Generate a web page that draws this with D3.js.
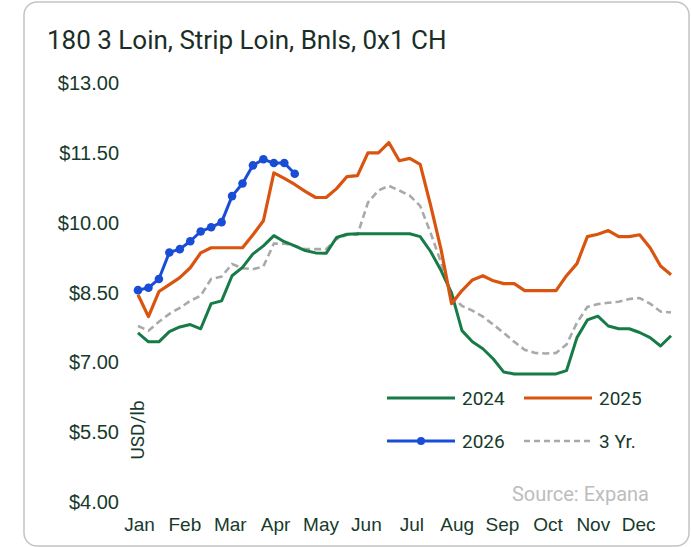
<!DOCTYPE html>
<html lang="en">
<head>
<meta charset="utf-8" />
<script src="https://d3js.org/d3.v7.min.js"></script>
<style>
body { margin: 0; background: #fff; }
svg { font-family: Roboto, "Open Sans", sans-serif; }
.card { fill: #fff; stroke: #c4c4c4; stroke-width: 1.5; }
.title { font-size: 26px; fill: #1b2e26; }
.tick text { font-size: 20px; fill: #173a2b; }
.xax .tick text { font-size: 19px; }
.lbl { font-size: 19px; fill: #173a2b; }
.src { font-size: 20px; fill: #bdbdbd; }
</style>
</head>
<body>
<svg width="691" height="547"></svg>
<script>
// weekly prices, USD/lb
var months = ["Jan","Feb","Mar","Apr","May","Jun","Jul","Aug","Sep","Oct","Nov","Dec"];
var yTicks = [4, 5.5, 7, 8.5, 10, 11.5, 13];

var s2024 = [7.62,7.43,7.43,7.65,7.75,7.80,7.71,8.25,8.31,8.85,9.03,9.32,9.49,9.71,9.58,9.49,
  9.39,9.34,9.33,9.67,9.74,9.75,9.75,9.75,9.75,9.75,9.75,9.69,9.37,8.96,8.48,7.67,
  7.43,7.28,7.06,6.78,6.74,6.74,6.74,6.74,6.74,6.81,7.52,7.90,7.98,7.77,7.71,7.71,
  7.63,7.52,7.34,7.56];
var s2025 = [8.44,7.97,8.51,8.66,8.81,9.02,9.34,9.45,9.45,9.45,9.45,9.73,10.03,11.06,10.94,10.81,
  10.66,10.53,10.53,10.72,10.98,11.00,11.49,11.49,11.71,11.32,11.37,11.24,10.36,9.41,8.25,8.53,
  8.76,8.85,8.74,8.68,8.68,8.53,8.53,8.53,8.53,8.85,9.11,9.69,9.74,9.82,9.69,9.69,
  9.73,9.45,9.06,8.87];
var s2026 = [8.54,8.59,8.78,9.35,9.42,9.59,9.80,9.89,10.00,10.56,10.83,11.22,11.35,11.27,11.27,11.04];
var s3yr = [7.77,7.67,7.86,8.03,8.16,8.31,8.42,8.78,8.83,9.10,9.01,8.99,9.05,9.54,9.54,9.49,
  9.42,9.42,9.42,9.64,9.73,9.73,10.42,10.68,10.78,10.68,10.57,10.35,9.77,9.13,8.42,8.20,
  8.10,7.97,7.80,7.62,7.43,7.26,7.19,7.18,7.19,7.37,7.84,8.18,8.24,8.27,8.29,8.35,
  8.37,8.25,8.08,8.06];

var svg = d3.select("svg");

svg.append("rect").attr("class", "card")
    .attr("x", 24).attr("y", 2).attr("width", 665).attr("height", 544).attr("rx", 13);

svg.append("text").attr("class", "title")
    .attr("x", 47).attr("y", 49)
    .text("180 3 Loin, Strip Loin, Bnls, 0x1 CH");

var x = d3.scaleLinear().domain([0, 51]).range([138, 671]);
var y = d3.scaleLinear().domain([4, 13]).range([501.5, 82.5]);
var xm = d3.scalePoint().domain(months).range([x(0) + 1, x(11 * 52 / 12) + 2]);

svg.append("g")
    .attr("transform", "translate(119,0)")
    .call(d3.axisLeft(y).tickValues(yTicks).tickSize(0).tickPadding(0).tickFormat(d3.format("$.2f")))
    .call(function(g) { g.select(".domain").remove(); })
    .selectAll("text").attr("dy", "0.35em");

svg.append("g").attr("class", "xax")
    .attr("transform", "translate(0,517)")
    .call(d3.axisBottom(xm).tickSize(0).tickPadding(0))
    .call(function(g) { g.select(".domain").remove(); })
    .selectAll("text").attr("dy", "0.71em");

svg.append("text").attr("class", "lbl")
    .attr("transform", "translate(144,430) rotate(-90)")
    .attr("text-anchor", "middle")
    .text("USD/lb");

var line = d3.line()
    .x(function(d, i) { return x(i); })
    .y(function(d) { return y(d); });

svg.append("path").datum(s3yr)
    .attr("d", line).attr("fill", "none")
    .attr("stroke", "#a9a9a9").attr("stroke-width", 2.6).attr("stroke-dasharray", "7,4");

svg.append("path").datum(s2024)
    .attr("d", line).attr("fill", "none")
    .attr("stroke", "#177b48").attr("stroke-width", 3).attr("stroke-linejoin", "round");

svg.append("path").datum(s2025)
    .attr("d", line).attr("fill", "none")
    .attr("stroke", "#d9550f").attr("stroke-width", 3.2).attr("stroke-linejoin", "round");

svg.append("path").datum(s2026)
    .attr("d", line).attr("fill", "none")
    .attr("stroke", "#1a4dd6").attr("stroke-width", 3).attr("stroke-linejoin", "round");

svg.selectAll("circle.pt").data(s2026).enter().append("circle")
    .attr("class", "pt")
    .attr("cx", function(d, i) { return x(i); })
    .attr("cy", function(d) { return y(d); })
    .attr("r", 4.3)
    .attr("fill", "#1a4dd6");

// legend
var legend = [
  { name: "2024", color: "#177b48", x: 387, y: 398, dash: null, dot: false },
  { name: "2025", color: "#d9550f", x: 524, y: 398, dash: null, dot: false },
  { name: "2026", color: "#1a4dd6", x: 387, y: 441, dash: null, dot: true },
  { name: "3 Yr.", color: "#a9a9a9", x: 524, y: 441, dash: "6,4", dot: false }
];
var lg = svg.selectAll("g.leg").data(legend).enter().append("g")
    .attr("class", "leg")
    .attr("transform", function(d) { return "translate(" + d.x + "," + d.y + ")"; });
lg.append("line")
    .attr("x1", 0).attr("x2", 68)
    .attr("stroke", function(d) { return d.color; })
    .attr("stroke-width", function(d) { return d.dash ? 2.6 : 3; })
    .attr("stroke-dasharray", function(d) { return d.dash; });
lg.filter(function(d) { return d.dot; }).append("circle")
    .attr("cx", 34).attr("r", 4).attr("fill", function(d) { return d.color; });
lg.append("text").attr("class", "lbl")
    .attr("x", 75).attr("dy", "0.35em")
    .text(function(d) { return d.name; });

svg.append("text").attr("class", "src")
    .attr("x", 649).attr("y", 494).attr("dy", "0.35em")
    .attr("text-anchor", "end")
    .text("Source: Expana");
</script>
</body>
</html>
